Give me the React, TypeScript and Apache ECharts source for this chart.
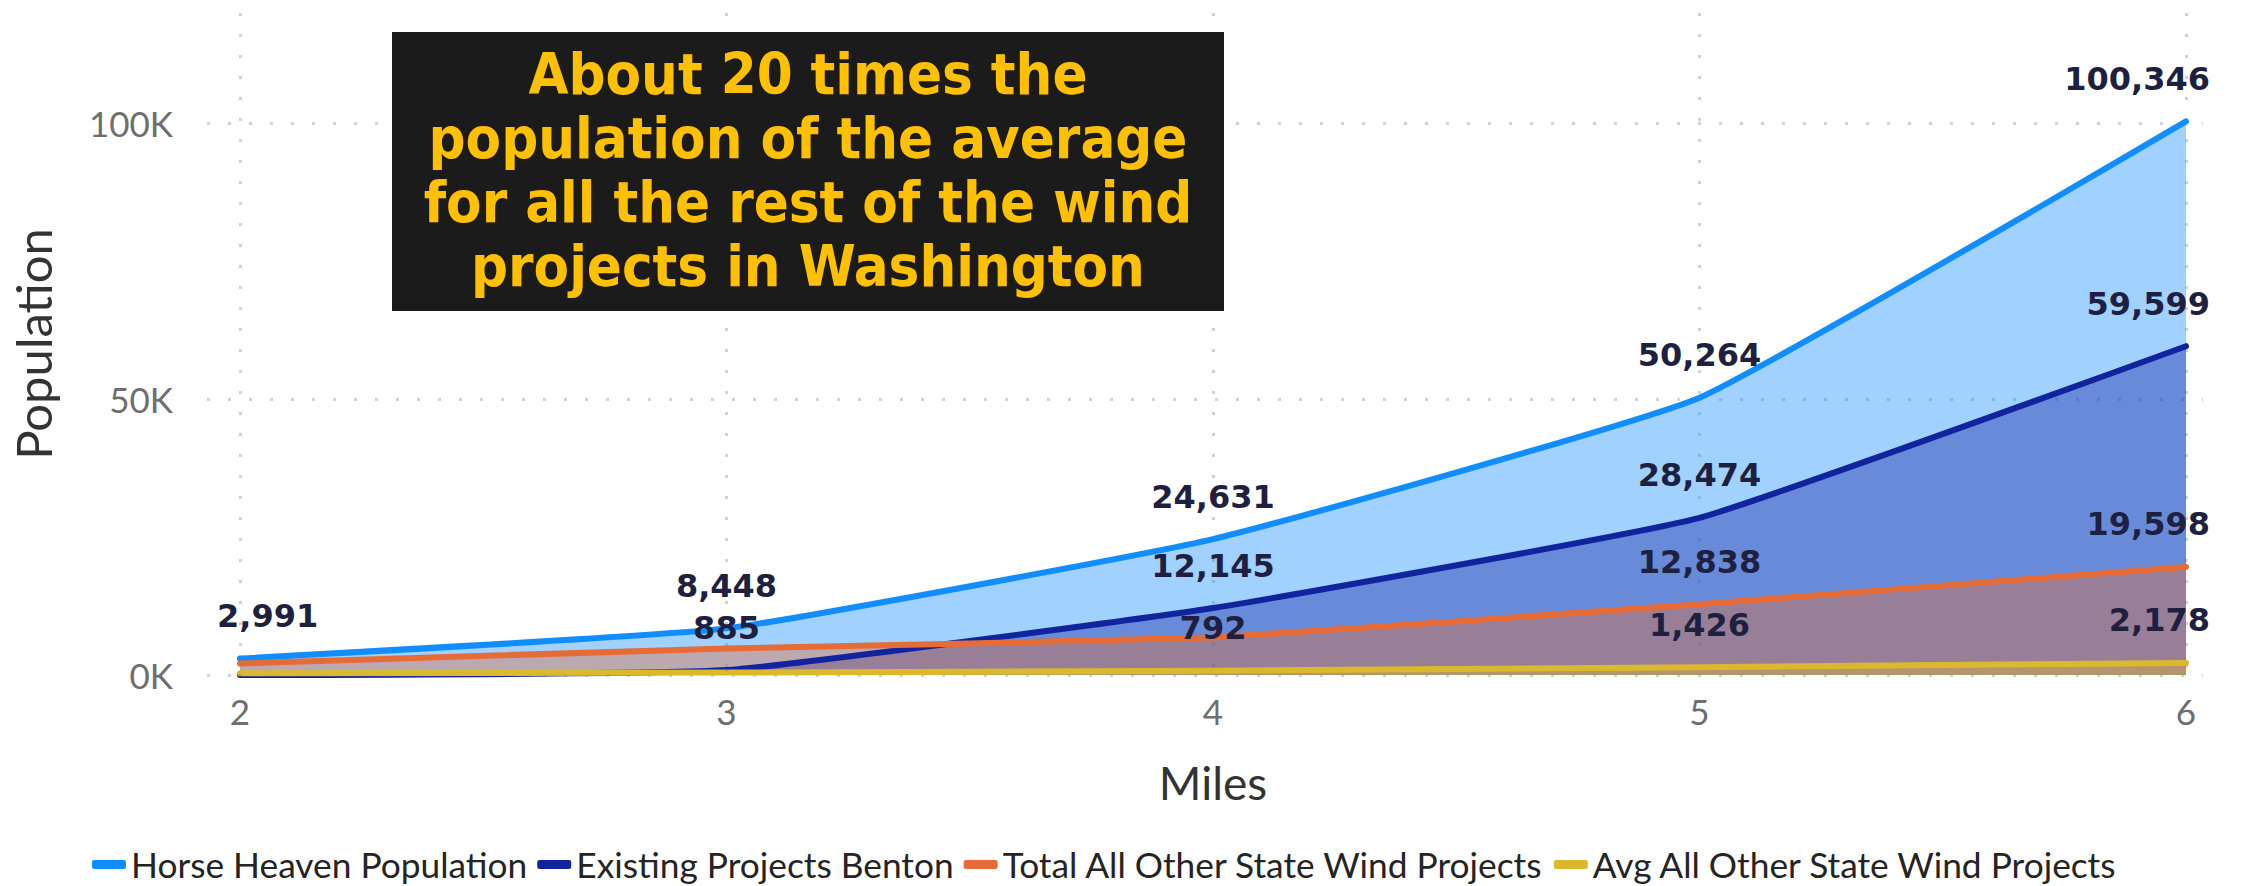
import React, { useEffect, useRef } from 'react';
import * as echarts from 'echarts';

const miles = [2, 3, 4, 5, 6];
const horseHeaven = [2991, 8448, 24631, 50264, 100346];
const existingBenton = [0, 885, 12145, 28474, 59599];
const totalOther = [2100, 4800, 6800, 12838, 19598];
const avgOther = [300, 450, 792, 1426, 2178];

const hhLabels = [true, true, true, true, true];
const bentonLabels = [false, true, true, true, true];
const totalLabels = [false, false, false, true, true];
const avgLabels = [false, false, true, true, true];

const seriesNames = [
  'Horse Heaven Population',
  'Existing Projects Benton',
  'Total All Other State Wind Projects',
  'Avg All Other State Wind Projects',
];
const seriesColors = ['#118DFF', '#12239E', '#E66C37', '#DBB92E'];

const yTicks = [0, 50000, 100000];
const annotationLines = [
  'About 20 times the',
  'population of the average',
  'for all the rest of the wind',
  'projects in Washington',
];

function buildData(values: number[], shown: boolean[]) {
  return values.map((v, i) => {
    const label: any = { show: shown[i] };
    if (i === 0) {
      label.align = 'left';
      label.offset = [-23, 0];
    } else if (i === values.length - 1) {
      label.align = 'right';
      label.offset = [24, 0];
    }
    return { value: [miles[i], v], label };
  });
}

export default function App() {
  const ref = useRef<HTMLDivElement>(null);
  useEffect(() => {
    document.body.style.margin = '0';
    const chart = echarts.init(ref.current!, null, { renderer: 'svg' });
    const allValues = [horseHeaven, existingBenton, totalOther, avgOther];
    const allLabels = [hhLabels, bentonLabels, totalLabels, avgLabels];
    const gridTop = 13;
    const gridBottom = 211;
    const yMax = 120000;
    const option: any = {
      animation: false,
      grid: [
        { left: 240, right: 56, top: gridTop, bottom: gridBottom },
        { left: 207, right: 39, top: gridTop, bottom: gridBottom },
      ],
      xAxis: [
        {
          type: 'value',
          gridIndex: 0,
          min: miles[0],
          max: miles[miles.length - 1],
          interval: 1,
          axisLine: { show: false },
          axisTick: { show: false },
          axisLabel: {
            fontFamily: 'Lato',
            fontSize: 35,
            color: '#6e6e6e',
            margin: 18,
          },
          splitLine: {
            show: true,
            lineStyle: { color: '#d2d2d2', type: [3, 18], width: 3 },
          },
          name: 'Miles',
          nameLocation: 'middle',
          nameGap: 84,
          nameTextStyle: { fontFamily: 'Lato', fontSize: 46, color: '#333333' },
        },
        {
          type: 'value',
          gridIndex: 1,
          min: 0,
          max: 1,
          show: false,
        },
      ],
      yAxis: [
        {
          type: 'value',
          gridIndex: 0,
          min: 0,
          max: yMax,
          interval: 50000,
          show: false,
        },
        {
          type: 'value',
          gridIndex: 1,
          min: 0,
          max: yMax,
          interval: 50000,
          axisLine: { show: false },
          axisTick: { show: false },
          axisLabel: {
            fontFamily: 'Lato',
            fontSize: 35,
            color: '#6e6e6e',
            margin: 34,
            formatter: (v: number) => (yTicks.includes(v) ? v / 1000 + 'K' : ''),
          },
          splitLine: {
            show: true,
            lineStyle: {
              color: ['#d2d2d2', '#d2d2d2', '#d2d2d2', 'rgba(0,0,0,0)'],
              type: [3, 18],
              width: 3,
            },
          },
          name: 'Population',
          nameLocation: 'middle',
          nameGap: 150,
          nameRotate: 90,
          nameTextStyle: { fontFamily: 'Lato', fontSize: 49, color: '#333333' },
        },
      ],
      legend: {
        left: 87,
        top: 842,
        icon: 'roundRect',
        itemWidth: 34,
        itemHeight: 9,
        itemGap: 10,
        textStyle: { fontFamily: 'Lato', fontSize: 35.3, color: '#252423' },
        data: seriesNames,
      },
      series: seriesNames.map((name, si) => ({
        type: 'line',
        name,
        xAxisIndex: 0,
        yAxisIndex: 0,
        data: buildData(allValues[si], allLabels[si]),
        smooth: 0.12,
        clip: false,
        symbol: 'circle',
        symbolSize: 1,
        showSymbol: true,
        color: seriesColors[si],
        itemStyle: { color: seriesColors[si] },
        lineStyle: { width: 6, color: seriesColors[si], cap: 'round', join: 'round' },
        areaStyle: { color: seriesColors[si], opacity: 0.4 },
        emphasis: { disabled: true },
        label: {
          show: false,
          position: 'top',
          distance: 26,
          fontFamily: 'DejaVu Sans',
          fontWeight: 'bold',
          fontSize: 32,
          color: '#1f1f3f',
          formatter: (p: any) => p.value[1].toLocaleString('en-US'),
        },
      })),
      graphic: [
        {
          type: 'rect',
          z: 100,
          shape: { x: 392, y: 32, width: 832, height: 279 },
          style: { fill: '#1b1b1b' },
        },
        {
          type: 'text',
          z: 101,
          x: 808,
          y: 170,
          style: {
            text: annotationLines.join('\n'),
            fill: '#FFC000',
            fontFamily: '"DejaVu Sans Condensed", "DejaVu Sans"',
            fontWeight: 'bold',
            fontSize: 57.5,
            lineHeight: 64,
            align: 'center',
            verticalAlign: 'middle',
          },
        },
      ],
    };
    chart.setOption(option);
    return () => chart.dispose();
  }, []);
  return <div ref={ref} style={{ width: 2242, height: 886 }} />;
}
